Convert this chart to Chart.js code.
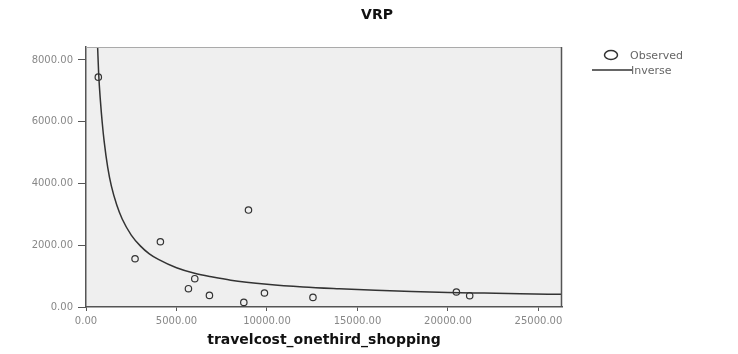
<!DOCTYPE html>
<html>
<head>
<meta charset="utf-8">
<script src="https://cdn.jsdelivr.net/npm/chart.js@4"></script>
<style>
  html, body { margin: 0; padding: 0; background: #fff; }
  #wrap { width: 738px; height: 354px; }
</style>
</head>
<body>
<div id="wrap"><canvas id="vrpChart" width="738" height="354"></canvas></div>
<script>
const obsX = [680, 2710, 4110, 8977, 6010, 5660, 6820, 8720, 9860, 12540, 20465, 21200];
const obsY = [7443, 1563, 2113, 3139, 916, 592, 375, 149, 453, 311, 485, 366];

// fitted inverse curve
const curveX = [640, 700, 800, 900, 1000, 1200, 1400, 1700, 2000, 2500, 3000, 3500, 4000, 5000,
  6000, 7000, 8000, 10000, 12000, 14000, 16000, 18000, 20000, 22000, 24000, 26300];
const curveY = [8450, 7550, 6650, 5950, 5380, 4520, 3920, 3300, 2850, 2330, 1980, 1720, 1540, 1270,
  1090, 970, 870, 740, 650, 590, 540, 500, 470, 450, 430, 410];

const xTicks = [0, 5000, 10000, 15000, 20000, 25000];
const yTicks = [0, 2000, 4000, 6000, 8000];

const font = "'DejaVu Sans', 'Liberation Sans', sans-serif";
const axisGrey = '#555';

// grey plot area, frame, title and legend
const frame = {
  id: 'frame',
  beforeDraw(chart) {
    const { ctx, chartArea: a } = chart;
    ctx.save();
    ctx.fillStyle = '#efefef';
    ctx.fillRect(a.left, a.top, a.right - a.left, a.bottom - a.top);
    ctx.restore();
  },
  afterDraw(chart) {
    const { ctx, chartArea: a } = chart;
    ctx.save();
    ctx.strokeStyle = '#aaa';
    ctx.lineWidth = 1;
    ctx.beginPath();
    ctx.moveTo(a.left, a.top + 0.5);
    ctx.lineTo(a.right, a.top + 0.5);
    ctx.stroke();
    ctx.strokeStyle = axisGrey;
    ctx.lineWidth = 1.5;
    ctx.beginPath();
    ctx.moveTo(a.right - 0.5, a.top);
    ctx.lineTo(a.right - 0.5, a.bottom);
    ctx.stroke();

    ctx.fillStyle = '#111';
    ctx.font = 'bold 14px ' + font;
    ctx.textAlign = 'center';
    ctx.textBaseline = 'middle';
    ctx.fillText('VRP', 377, 15);

    // legend
    ctx.strokeStyle = '#333';
    ctx.lineWidth = 1.5;
    ctx.beginPath();
    ctx.ellipse(a.right + 49, 55, 6.5, 4.5, 0, 0, Math.PI * 2);
    ctx.stroke();
    ctx.beginPath();
    ctx.moveTo(a.right + 30, 70);
    ctx.lineTo(a.right + 70, 70);
    ctx.stroke();
    ctx.fillStyle = '#666';
    ctx.font = '11px ' + font;
    ctx.textAlign = 'left';
    ctx.fillText('Observed', a.right + 68, 56);
    ctx.fillText('Inverse', a.right + 69, 71);
    ctx.restore();
  }
};

new Chart(document.getElementById('vrpChart'), {
  type: 'scatter',
  data: {
    datasets: [
      {
        label: 'Observed',
        data: obsX.map((x, i) => ({ x: x, y: obsY[i] })),
        pointStyle: 'circle',
        pointRadius: 3.2,
        borderColor: '#333',
        backgroundColor: 'rgba(0,0,0,0)',
        borderWidth: 1.2
      },
      {
        label: 'Inverse',
        data: curveX.map((x, i) => ({ x: x, y: curveY[i] })),
        showLine: true,
        pointRadius: 0,
        borderColor: '#333',
        borderWidth: 1.5,
        cubicInterpolationMode: 'monotone'
      }
    ]
  },
  options: {
    responsive: false,
    animation: false,
    layout: { padding: { left: 0, right: 176, top: 47, bottom: 0 } },
    plugins: {
      legend: { display: false },
      tooltip: { enabled: false }
    },
    scales: {
      x: {
        type: 'linear',
        min: 0,
        max: 26300,
        afterBuildTicks: s => { s.ticks = xTicks.map(v => ({ value: v })); },
        afterFit: s => { s.height = 47; },
        border: { color: axisGrey, width: 1.5 },
        grid: { drawOnChartArea: false, drawTicks: true, tickLength: 4, color: axisGrey },
        ticks: {
          color: '#888',
          font: { family: font, size: 10 },
          padding: 4,
          maxRotation: 0,
          callback: v => v.toFixed(2)
        },
        title: {
          display: true,
          text: 'travelcost_onethird_shopping',
          color: '#111',
          font: { family: font, size: 14, weight: 'bold' },
          padding: { top: 0, bottom: 5 }
        }
      },
      y: {
        type: 'linear',
        min: 0,
        max: 8420,
        afterBuildTicks: s => { s.ticks = yTicks.map(v => ({ value: v })); },
        afterFit: s => { s.width = 86; },
        border: { color: axisGrey, width: 1.5 },
        grid: { drawOnChartArea: false, drawTicks: true, tickLength: 8, color: axisGrey },
        ticks: {
          color: '#888',
          font: { family: font, size: 10 },
          padding: 5,
          callback: v => v.toFixed(2)
        }
      }
    }
  },
  plugins: [frame]
});
</script>
</body>
</html>
